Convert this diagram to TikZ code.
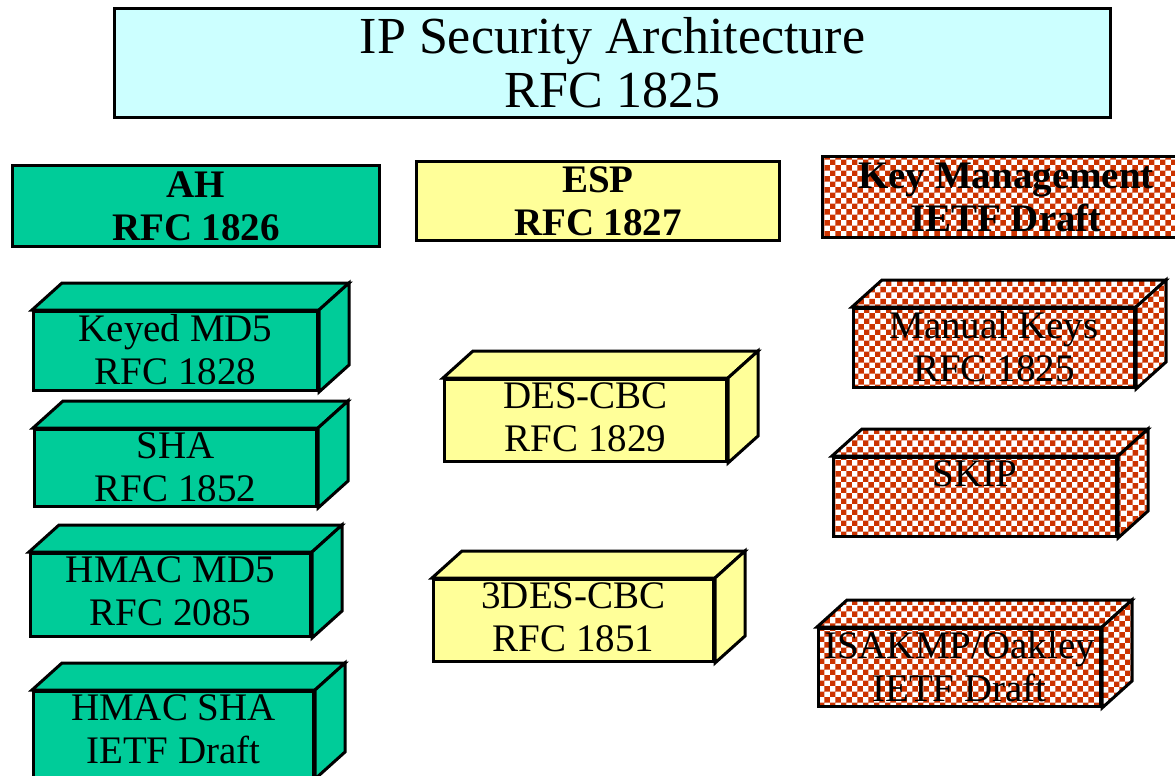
\documentclass[tikz,border=0pt]{standalone}
\usepackage{fontspec}
\setmainfont{Liberation Serif}
\usetikzlibrary{patterns}
\definecolor{titlecyan}{HTML}{CCFFFF}
\definecolor{ahgreen}{HTML}{00CC99}
\definecolor{espyellow}{HTML}{FFFF99}
\definecolor{keyred}{HTML}{CC3300}

\begin{document}
\begin{tikzpicture}[x=1pt, y=-1pt, line width=3pt,
  head/.style={draw, align=center, inner sep=0pt, font=\fontsize{39}{43}\selectfont\bfseries},
  face/.style={draw, inner sep=0pt},
  lbl/.style={align=center, anchor=north, inner sep=0pt, yshift=-3pt, font=\fontsize{39}{43}\selectfont},
  keyfill/.style={preaction={fill=white}, pattern=checkerboard, pattern color=keyred}]
\useasboundingbox (0,0) rectangle (1175,776);
\clip (0,0) rectangle (1175,776);

% title
\node[draw, fill=titlecyan, align=center, inner sep=0pt, minimum width=996pt, minimum height=109pt,
  font=\fontsize{52}{54}\selectfont] (ipsec) at (612.5,63) {IP Security Architecture\\RFC 1825};

% the three protocol headings
\node[head, fill=ahgreen,   minimum width=367pt, minimum height=81pt] (ah)  at (196,206)  {AH\\RFC 1826};
\node[head, fill=espyellow, minimum width=363pt, minimum height=79pt] (esp) at (598,201)  {ESP\\RFC 1827};
\node[head, keyfill,        minimum width=367pt, minimum height=81pt] (key) at (1006,197) {Key Management\\IETF Draft};

% front faces of the blocks
\node[face, fill=ahgreen, minimum width=284pt, minimum height=79pt] (kmd5) at (175.5,351) {};
\node[face, fill=ahgreen, minimum width=282pt, minimum height=77pt] (sha)  at (175.5,468) {};
\node[face, fill=ahgreen, minimum width=280pt, minimum height=83pt] (hmd5) at (170.5,595) {};
\node[face, fill=ahgreen, minimum width=280pt, minimum height=86pt] (hsha) at (173.5,734.5) {};
\node[face, fill=espyellow, minimum width=282pt, minimum height=82pt] (des)  at (585.5,420.5) {};
\node[face, fill=espyellow, minimum width=280pt, minimum height=82pt] (tdes) at (573.5,620.5) {};
\node[face, keyfill, minimum width=281pt, minimum height=79pt] (man)  at (994,348) {};
\node[face, keyfill, minimum width=283pt, minimum height=79pt] (skip) at (975,497) {};
\node[face, keyfill, minimum width=282pt, minimum height=78pt] (isak) at (959.5,667.5) {};

% top and side faces
\foreach \b/\c in {kmd5/ahgreen, sha/ahgreen, hmd5/ahgreen, hsha/ahgreen, des/espyellow, tdes/espyellow} {
  \draw[fill=\c] (\b.north west) -- ++(30,-27) -- ([shift={(30,-27)}]\b.north east) -- (\b.north east) -- cycle;
  \draw[fill=\c] (\b.north east) -- ++(30,-27) -- ([shift={(30,-27)}]\b.south east) -- (\b.south east) -- cycle;
}
\foreach \b in {man, skip, isak} {
  \draw[keyfill] (\b.north west) -- ++(30,-27) -- ([shift={(30,-27)}]\b.north east) -- (\b.north east) -- cycle;
  \draw[keyfill] (\b.north east) -- ++(30,-27) -- ([shift={(30,-27)}]\b.south east) -- (\b.south east) -- cycle;
}

% block labels
\node[lbl] (kmd5t) at (kmd5.north) {Keyed MD5\\RFC 1828};
\node[lbl] (shat)  at (sha.north)  {SHA\\RFC 1852};
\node[lbl] (hmd5t) at (hmd5.north) {HMAC MD5\\RFC 2085};
\node[lbl] (hshat) at (hsha.north) {HMAC SHA\\IETF Draft};
\node[lbl] (dest)  at (des.north)  {DES-CBC\\RFC 1829};
\node[lbl] (tdest) at (tdes.north) {3DES-CBC\\RFC 1851};
\node[lbl] (mant)  at (man.north)  {Manual Keys\\RFC 1825};
\node[lbl] (skipt) at (skip.north) {SKIP};
\node[lbl] (isakt) at (isak.north) {ISAKMP/Oakley\\IETF Draft};
\end{tikzpicture}
\end{document}
